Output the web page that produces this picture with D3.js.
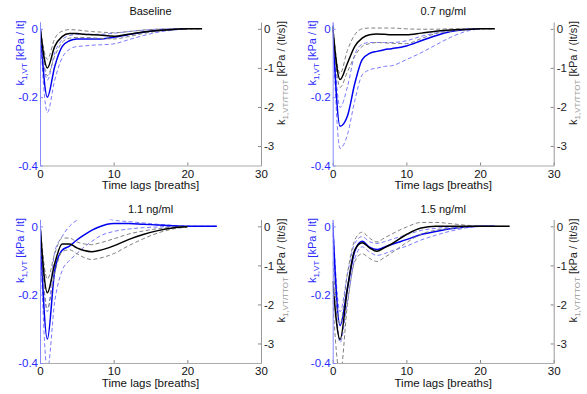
<!DOCTYPE html>
<html>
<head>
<meta charset="utf-8">
<script src="https://cdn.jsdelivr.net/npm/d3@7"></script>
<style>
  body { margin: 0; background: #fff; }
  svg { font-family: "Liberation Sans", Arial, sans-serif; }
</style>
</head>
<body>
<svg id="chart" width="587" height="394"></svg>
<script>
// time lags in breaths (shared grid)
const lags = [0, 1, 2, 3, 4, 5, 6, 7, 8, 10, 12, 14, 16, 18, 20, 22, 24];

const titles = ['Baseline', '0.7 ng/ml', '1.1 ng/ml', '1.5 ng/ml'];
const xTicks = [0, 10, 20, 30];
const leftTicks = [0, -0.2, -0.4];
const rightTicks = [0, -1, -2, -3];

// k1,VT  [kPa / lt]  (left axis, blue)
const baseBlue   = [0.015, -0.2, -0.11, -0.052, -0.035, -0.03, -0.03, -0.03, -0.03, -0.025, -0.017, -0.01, -0.005, -0.002, 0, null, null];
const baseBlueLo = [0, -0.245, -0.15, -0.085, -0.06, -0.052, -0.05, -0.048, -0.047, -0.044, -0.032, -0.02, -0.01, -0.004, 0, null, null];
const baseBlueHi = [0.02, -0.15, -0.07, -0.032, -0.02, -0.016, -0.016, -0.016, -0.016, -0.013, -0.008, -0.004, -0.001, 0, 0, null, null];
const d07Blue    = [0.01, -0.285, -0.255, -0.16, -0.09, -0.072, -0.066, -0.061, -0.058, -0.05, -0.035, -0.02, -0.008, -0.002, 0, null, null];
const d07BlueLo  = [0, -0.35, -0.31, -0.21, -0.135, -0.12, -0.115, -0.11, -0.108, -0.09, -0.07, -0.047, -0.025, -0.008, 0, null, null];
const d07BlueHi  = [0.02, -0.23, -0.17, -0.075, -0.045, -0.04, -0.04, -0.04, -0.04, -0.035, -0.022, -0.012, -0.005, -0.001, 0, null, null];
const d11Blue    = [0.01, -0.33, -0.13, -0.07, -0.058, -0.04, -0.025, -0.012, -0.002, 0.008, 0.008, 0.006, 0.004, 0.002, 0, 0, 0];
const d11BlueLo  = [0, -0.42, -0.22, -0.13, -0.1, -0.08, -0.06, -0.045, -0.03, -0.015, -0.008, -0.004, -0.002, 0, 0, 0, 0];
const d11BlueHi  = [0.02, -0.25, -0.075, -0.03, 0.0, 0.018, 0.032, 0.036, 0.03, 0.018, 0.014, 0.01, 0.006, 0.003, 0.001, 0, 0];
const d15Blue    = [0.01, -0.29, -0.18, -0.073, -0.044, -0.061, -0.068, -0.061, -0.053, -0.039, -0.024, -0.015, -0.007, -0.002, 0, 0, null];
const d15BlueLo  = [-0.02, -0.34, -0.22, -0.095, -0.06, -0.075, -0.085, -0.08, -0.072, -0.058, -0.04, -0.026, -0.014, -0.005, 0, 0, null];
const d15BlueHi  = [0.02, -0.25, -0.14, -0.05, -0.03, -0.045, -0.05, -0.045, -0.038, -0.025, -0.012, -0.006, -0.002, 0, 0, 0, null];

// k1,VT/TTOT  [kPa / (lt/s)]  (right axis, black)
const baseBlack   = [0.05, -1.0, -0.45, -0.2, -0.12, -0.12, -0.14, -0.15, -0.16, -0.19, -0.14, -0.08, -0.04, -0.015, 0, 0, null];
const baseBlackLo = [0, -1.2, -0.7, -0.35, -0.24, -0.22, -0.22, -0.23, -0.24, -0.26, -0.2, -0.12, -0.06, -0.025, -0.005, 0, null];
const baseBlackHi = [0.1, -0.78, -0.25, -0.06, -0.02, -0.03, -0.05, -0.07, -0.08, -0.1, -0.07, -0.03, -0.01, 0, 0, 0, null];
const d07Black    = [0.05, -1.3, -0.88, -0.45, -0.24, -0.15, -0.13, -0.14, -0.15, -0.15, -0.11, -0.06, -0.03, -0.015, 0, 0, null];
const d07BlackLo  = [0, -1.5, -1.1, -0.7, -0.45, -0.38, -0.35, -0.36, -0.37, -0.38, -0.25, -0.12, -0.06, -0.02, 0, 0, null];
const d07BlackHi  = [0.1, -1.15, -0.55, -0.15, 0, 0.02, 0.02, 0.02, 0.02, 0, -0.01, -0.01, 0, 0, 0, 0, null];
const d11Black    = [0.05, -1.7, -0.95, -0.45, -0.45, -0.55, -0.62, -0.65, -0.62, -0.5, -0.34, -0.21, -0.11, -0.04, -0.01, null, null];
const d11BlackLo  = [0, -2.1, -1.2, -0.65, -0.6, -0.7, -0.8, -0.85, -0.82, -0.7, -0.5, -0.32, -0.17, -0.07, -0.02, null, null];
const d11BlackHi  = [0.1, -1.35, -0.7, -0.3, -0.3, -0.4, -0.45, -0.47, -0.43, -0.32, -0.2, -0.12, -0.06, -0.02, 0, null, null];
const d15Black    = [-1.4, -2.9, -1.6, -0.6, -0.42, -0.55, -0.64, -0.55, -0.45, -0.21, -0.04, 0, 0, 0, 0, 0, 0];
const d15BlackLo  = [-1.9, -3.8, -2.0, -0.9, -0.7, -0.82, -0.9, -0.8, -0.68, -0.42, -0.2, -0.1, -0.05, -0.02, 0, 0, 0];
const d15BlackHi  = [-0.9, -2.5, -1.2, -0.35, -0.15, -0.3, -0.4, -0.3, -0.2, -0.02, 0.1, 0.1, 0.07, 0.03, 0.01, 0, 0];

const panels = [
  { title: titles[0], left: 40, top: 22, blue: [baseBlue, baseBlueLo, baseBlueHi], black: [baseBlack, baseBlackLo, baseBlackHi] },
  { title: titles[1], left: 332.7, top: 22, blue: [d07Blue, d07BlueLo, d07BlueHi], black: [d07Black, d07BlackLo, d07BlackHi] },
  { title: titles[2], left: 40, top: 219.5, blue: [d11Blue, d11BlueLo, d11BlueHi], black: [d11Black, d11BlackLo, d11BlackHi] },
  { title: titles[3], left: 332.7, top: 219.5, blue: [d15Blue, d15BlueLo, d15BlueHi], black: [d15Black, d15BlackLo, d15BlackHi] }
];

const width = 221;
const height = 143.5;
const svg = d3.select('#chart');

const x = d3.scaleLinear().domain([0, 30]).range([0, width]);
const yL = d3.scaleLinear().domain([-0.4, 0.02]).range([height, 0]);
const yR = d3.scaleLinear().domain([-3.5, 0.175]).range([height, 0]);

panels.forEach((p, i) => {
  const g = svg.append('g').attr('transform', 'translate(' + p.left + ',' + p.top + ')');

  g.append('clipPath').attr('id', 'clip' + i)
    .append('rect').attr('width', width).attr('height', height);

  const plot = g.append('g').attr('clip-path', 'url(#clip' + i + ')');

  const lineL = d3.line().defined(d => d[1] != null)
    .x(d => x(d[0])).y(d => yL(d[1])).curve(d3.curveMonotoneX);
  const lineR = d3.line().defined(d => d[1] != null)
    .x(d => x(d[0])).y(d => yR(d[1])).curve(d3.curveMonotoneX);
  const pairs = arr => lags.map((l, k) => [l, arr[k]]);

  // blue series on left axis
  [p.blue[1], p.blue[2]].forEach(s => {
    plot.append('path').attr('d', lineL(pairs(s)))
      .attr('fill', 'none').attr('stroke', '#7a7aff').attr('stroke-width', 1)
      .attr('stroke-dasharray', '4,2.5');
  });
  plot.append('path').attr('d', lineL(pairs(p.blue[0])))
    .attr('fill', 'none').attr('stroke', '#0000f0').attr('stroke-width', 1.5);

  // black series on right axis
  [p.black[1], p.black[2]].forEach(s => {
    plot.append('path').attr('d', lineR(pairs(s)))
      .attr('fill', 'none').attr('stroke', '#808080').attr('stroke-width', 1)
      .attr('stroke-dasharray', '4,2.5');
  });
  plot.append('path').attr('d', lineR(pairs(p.black[0])))
    .attr('fill', 'none').attr('stroke', '#000').attr('stroke-width', 1.5);

  // axes
  const ax = g.append('g').attr('transform', 'translate(0,' + height + ')')
    .call(d3.axisBottom(x).tickValues(xTicks).tickSizeInner(-3).tickSizeOuter(0).tickPadding(4));
  ax.select('.domain').attr('stroke', '#aaa');
  ax.selectAll('.tick line').attr('stroke', '#888');
  ax.selectAll('text').attr('fill', '#111').style('font-size', '11.5px');

  const al = g.append('g')
    .call(d3.axisLeft(yL).tickValues(leftTicks).tickFormat(d => String(d))
      .tickSizeInner(-3).tickSizeOuter(0).tickPadding(2));
  al.select('.domain').attr('stroke', '#8a8aff');
  al.selectAll('.tick line').attr('stroke', '#8a8aff');
  al.selectAll('text').attr('fill', '#2a2aff').style('font-size', '11.5px');

  const ar = g.append('g').attr('transform', 'translate(' + width + ',0)')
    .call(d3.axisRight(yR).tickValues(rightTicks).tickFormat(d => String(d))
      .tickSizeInner(-3).tickSizeOuter(0).tickPadding(3));
  ar.select('.domain').attr('stroke', '#999');
  ar.selectAll('.tick line').attr('stroke', '#888');
  ar.selectAll('text').attr('fill', '#222').style('font-size', '11.5px');

  // title and x label
  g.append('text').attr('x', width / 2).attr('y', -7)
    .attr('text-anchor', 'middle').attr('fill', '#111').style('font-size', '11px')
    .text(p.title);
  g.append('text').attr('x', width / 2).attr('y', height + 23.5)
    .attr('text-anchor', 'middle').attr('fill', '#111').style('font-size', '11.5px')
    .text('Time lags [breaths]');

  // left y label
  const tl = g.append('text')
    .attr('transform', 'translate(-16.5,31) rotate(-90)')
    .attr('text-anchor', 'middle').attr('fill', '#2a2aff').style('font-size', '11px');
  tl.append('tspan').text('k');
  tl.append('tspan').attr('dy', 3).style('font-size', '8px').text('1,VT');
  tl.append('tspan').attr('dy', -3).text(' [kPa / lt]');

  // right y label
  const tr = g.append('text')
    .attr('transform', 'translate(' + (width + 23.5) + ',51) rotate(-90)')
    .attr('text-anchor', 'middle').attr('fill', '#222').style('font-size', '11px');
  tr.append('tspan').text('k');
  tr.append('tspan').attr('dy', 3).attr('fill', '#999').style('font-size', '8px').text('1,VT/TTOT');
  tr.append('tspan').attr('dy', -3).text(' [kPa / (lt/s)]');
});
</script>
</body>
</html>
